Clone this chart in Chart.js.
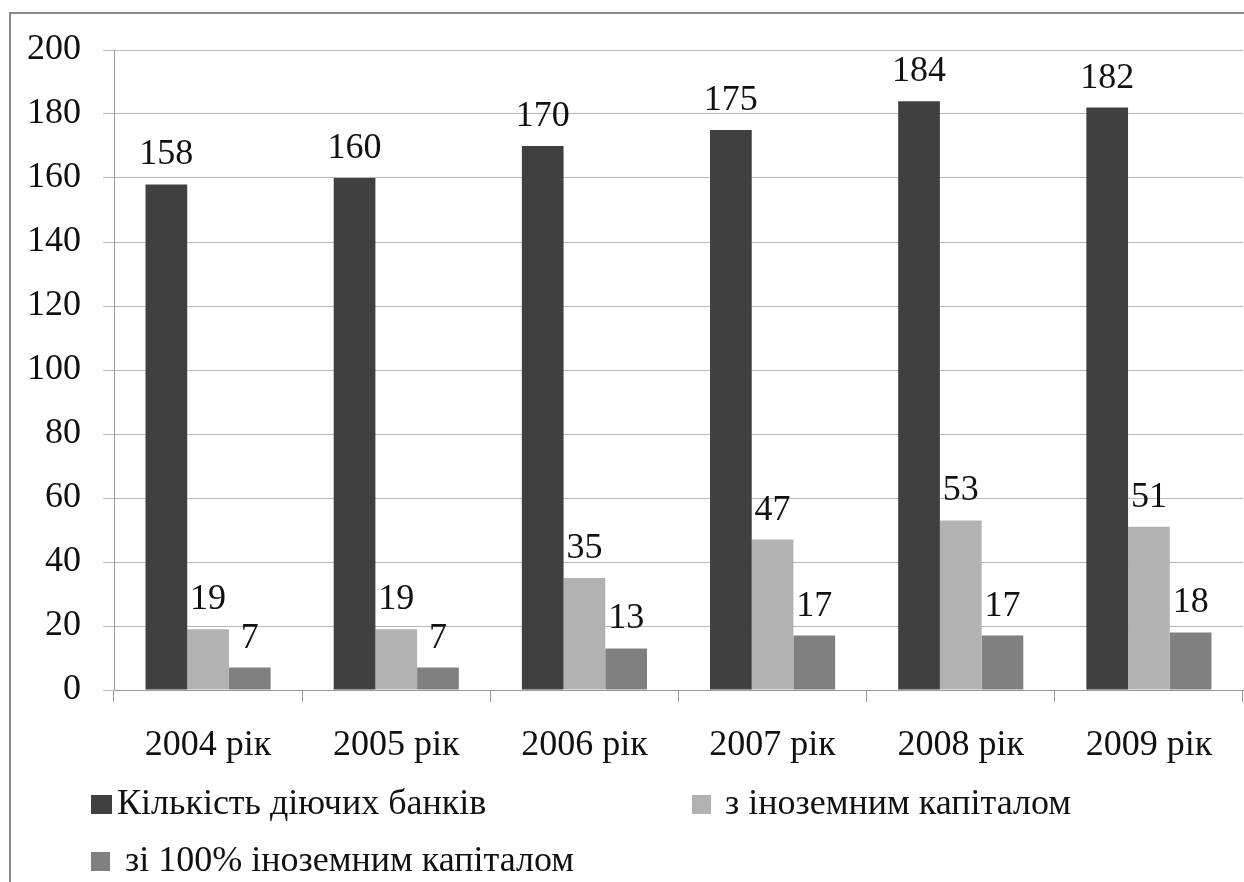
<!DOCTYPE html>
<html>
<head>
<meta charset="utf-8">
<script src="https://cdn.jsdelivr.net/npm/chart.js@4/dist/chart.umd.min.js"></script>
<style>
  body { margin: 0; background: #fff; }
  #wrap { width: 1244px; height: 882px; }
</style>
</head>
<body>
<div id="wrap"><canvas id="grafik" width="1244" height="882"></canvas></div>
<script>
// роки
let roky = ['2004 рік', '2005 рік', '2006 рік', '2007 рік', '2008 рік', '2009 рік'];
// кількість банків
let diyuchi = [158, 160, 170, 175, 184, 182];
let inozemni = [19, 19, 35, 47, 53, 51];
let inozemni100 = [7, 7, 13, 17, 17, 18];
let yTicks = [0, 20, 40, 60, 80, 100, 120, 140, 160, 180, 200];

let shryft = '"Liberation Serif", "Times New Roman", "DejaVu Serif", serif';

// рамка навколо діаграми
let ramka = {
  id: 'ramka',
  beforeDraw(chart) {
    let c = chart.ctx;
    c.save();
    c.strokeStyle = '#8a8a8a';
    c.lineWidth = 2;
    c.strokeRect(10, 13, 1400, 1000);
    c.restore();
  }
};

// підписи над стовпчиками
let pidpysy = {
  id: 'pidpysy',
  afterDatasetsDraw(chart) {
    let c = chart.ctx;
    c.save();
    c.font = '36px ' + shryft;
    c.fillStyle = '#111';
    c.textAlign = 'center';
    c.textBaseline = 'alphabetic';
    chart.data.datasets.forEach((ds, i) => {
      chart.getDatasetMeta(i).data.forEach((bar, j) => {
        c.fillText(ds.data[j], bar.x, bar.y - 20);
      });
    });
    c.restore();
  }
};

// легенда знизу, як в оригіналі
let lehenda = {
  id: 'lehenda',
  afterDraw(chart) {
    let c = chart.ctx;
    let mistse = [
      { x: 91, y: 795, w: 21, tx: 117 },
      { x: 692, y: 795, w: 19, tx: 725 },
      { x: 91, y: 852, w: 19, tx: 125 }
    ];
    c.save();
    c.font = '36px ' + shryft;
    c.textBaseline = 'middle';
    c.textAlign = 'left';
    chart.data.datasets.forEach((ds, i) => {
      let m = mistse[i];
      c.fillStyle = ds.backgroundColor;
      c.fillRect(m.x, m.y, m.w, 19);
      c.fillStyle = '#111';
      c.fillText(ds.label, m.tx, m.y + 10);
    });
    c.restore();
  }
};

let chart = new Chart(document.getElementById('grafik').getContext('2d'), {
  type: 'bar',
  data: {
    labels: roky,
    datasets: [
      { label: 'Кількість діючих банків', data: diyuchi, backgroundColor: '#404040' },
      { label: 'з іноземним капіталом', data: inozemni, backgroundColor: '#b2b2b2' },
      { label: 'зі 100% іноземним капіталом', data: inozemni100, backgroundColor: '#808080' }
    ]
  },
  options: {
    responsive: false,
    animation: false,
    layout: { padding: { top: 50, right: 1, left: 0, bottom: 0 } },
    datasets: {
      bar: { categoryPercentage: 0.665, barPercentage: 1 }
    },
    scales: {
      x: {
        afterFit(s) { s.height = 192; },
        grid: { drawOnChartArea: false, tickLength: 12, color: '#999', offset: true },
        border: { color: '#999' },
        ticks: { color: '#111', font: { family: shryft, size: 36 }, padding: 22 }
      },
      y: {
        min: 0,
        max: 200,
        afterFit(s) { s.width = 114; },
        afterBuildTicks(s) { s.ticks = yTicks.map(v => ({ value: v })); },
        grid: { color: '#b8b8b8', tickLength: 11 },
        border: { color: '#999' },
        ticks: { color: '#111', font: { family: shryft, size: 36 }, padding: 22 }
      }
    },
    plugins: {
      legend: { display: false },
      tooltip: { enabled: false }
    }
  },
  plugins: [ramka, pidpysy, lehenda]
});
</script>
</body>
</html>
